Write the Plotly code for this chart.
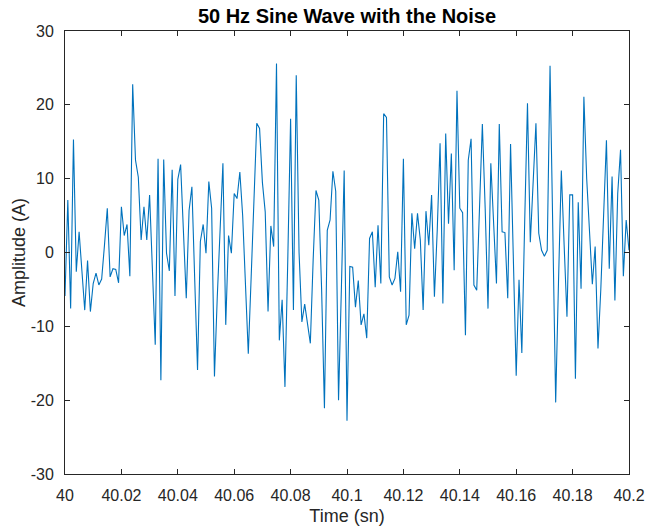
import plotly.graph_objects as go

t_start = 40.0
t_step = 0.001
amplitude = [
    -5.9, 7.1, -7.6, 15.3, -2.6, 2.8, -2.5, -7.8, -1.1, -8.0,
    -4.2, -2.8, -4.4, -3.6, 1.0, 6.0, -3.3, -2.2, -2.3, -4.1,
    6.2, 2.3, 3.8, -3.2, 22.8, 12.5, 10.2, 1.7, 6.2, 1.7,
    7.8, -3.0, -12.5, 12.7, -17.3, 12.6, -0.1, -2.5, 11.2, -5.9,
    9.9, 11.9, 2.6, -6.2, 5.7, 8.9, -3.7, -15.9, 1.5, 3.8,
    -0.1, 9.6, 6.0, -16.8, -6.0, 2.0, 12.1, -9.8, 2.3, -0.1,
    8.0, 7.3, 10.9, 5.0, -5.0, -13.7, -3.5, 7.0, 17.5, 16.8,
    9.5, 5.5, -8.0, 3.6, 0.8, 25.6, -11.9, -6.4, -18.2, -1.0,
    18.1, -7.8, 24.0, 0.0, -9.4, -7.0, -9.4, -12.3, -1.0, 8.4,
    7.1, -5.0, -21.1, 3.0, 4.4, 11.0, 8.3, -20.0, -5.0, 11.1,
    -22.8, -1.9, -2.0, -7.4, -3.8, -9.8, -8.3, -11.6, 1.9, 2.8,
    -4.7, 3.7, -4.2, 18.8, 18.3, -3.3, -4.4, -3.5, 0.1, -5.3,
    12.7, -9.8, -8.5, 5.3, 0.5, 5.3, 1.7, -7.8, 5.6, 1.0,
    7.8, -6.0, 3.0, 14.8, -6.9, 16.1, 3.9, 13.4, -2.4, 21.9,
    6.0, 5.4, -11.2, 12.5, 15.4, -4.4, -5.1, 6.0, 17.4, 6.0,
    -7.6, 12.1, 4.0, -4.2, 17.4, 2.8, 2.7, -6.2, 14.7, -2.0,
    -16.7, -3.7, -13.6, 4.0, 20.2, 1.4, 9.0, 17.5, 2.6, 0.3,
    -0.5, 0.3, 25.3, 2.0, -20.3, -4.0, 11.1, 1.0, -8.7, 7.8,
    7.8, -17.1, 6.8, -4.9, 21.1, 10.0, 3.0, -4.3, 0.8, -13.0,
    -5.0, 5.0, 15.2, -2.2, 10.3, -6.5, 8.0, 13.9, -3.2, 4.4,
    0.3,
]
time = [round(t_start + i * t_step, 3) for i in range(len(amplitude))]

x_tick_vals = [40.0, 40.02, 40.04, 40.06, 40.08, 40.1, 40.12, 40.14, 40.16, 40.18, 40.2]
x_tick_text = ["40", "40.02", "40.04", "40.06", "40.08", "40.1", "40.12", "40.14", "40.16", "40.18", "40.2"]
y_tick_vals = [-30, -20, -10, 0, 10, 20, 30]
y_tick_text = ["-30", "-20", "-10", "0", "10", "20", "30"]

FONT = "Liberation Sans, Arial, Helvetica"
TXT = "#262626"

fig = go.Figure()
fig.add_trace(go.Scatter(x=time, y=amplitude, mode="lines",
                         line=dict(color="#0072BD", width=1.1),
                         showlegend=False, hoverinfo="skip"))

axis_common = dict(showgrid=False, zeroline=False, showline=True, linecolor=TXT,
                   linewidth=1, mirror="ticks", ticks="inside", ticklen=5,
                   tickcolor=TXT, tickwidth=1, automargin=False,
                   tickfont=dict(family=FONT, size=16, color=TXT))

fig.update_xaxes(range=[40.0, 40.2], tickvals=x_tick_vals, ticktext=x_tick_text,
                 ticklabelstandoff=7,
                 title=dict(text="Time (sn)", standoff=6,
                            font=dict(family=FONT, size=18, color=TXT)),
                 **axis_common)
fig.update_yaxes(range=[-30, 30], tickvals=y_tick_vals, ticktext=y_tick_text,
                 ticklabelstandoff=7,
                 title=dict(text="Amplitude (A)", standoff=0,
                            font=dict(family=FONT, size=18, color=TXT)),
                 **axis_common)

fig.update_layout(
    width=647, height=532,
    margin=dict(l=65, r=18, t=31, b=58),
    paper_bgcolor="white", plot_bgcolor="white",
    title=dict(text="<b>50 Hz Sine Wave with the Noise</b>", x=0.5, xref="paper",
               y=1 - 16 / 532, yref="container", yanchor="middle",
               font=dict(family=FONT, size=20, color="black")),
)

fig.write_html("out.html")
